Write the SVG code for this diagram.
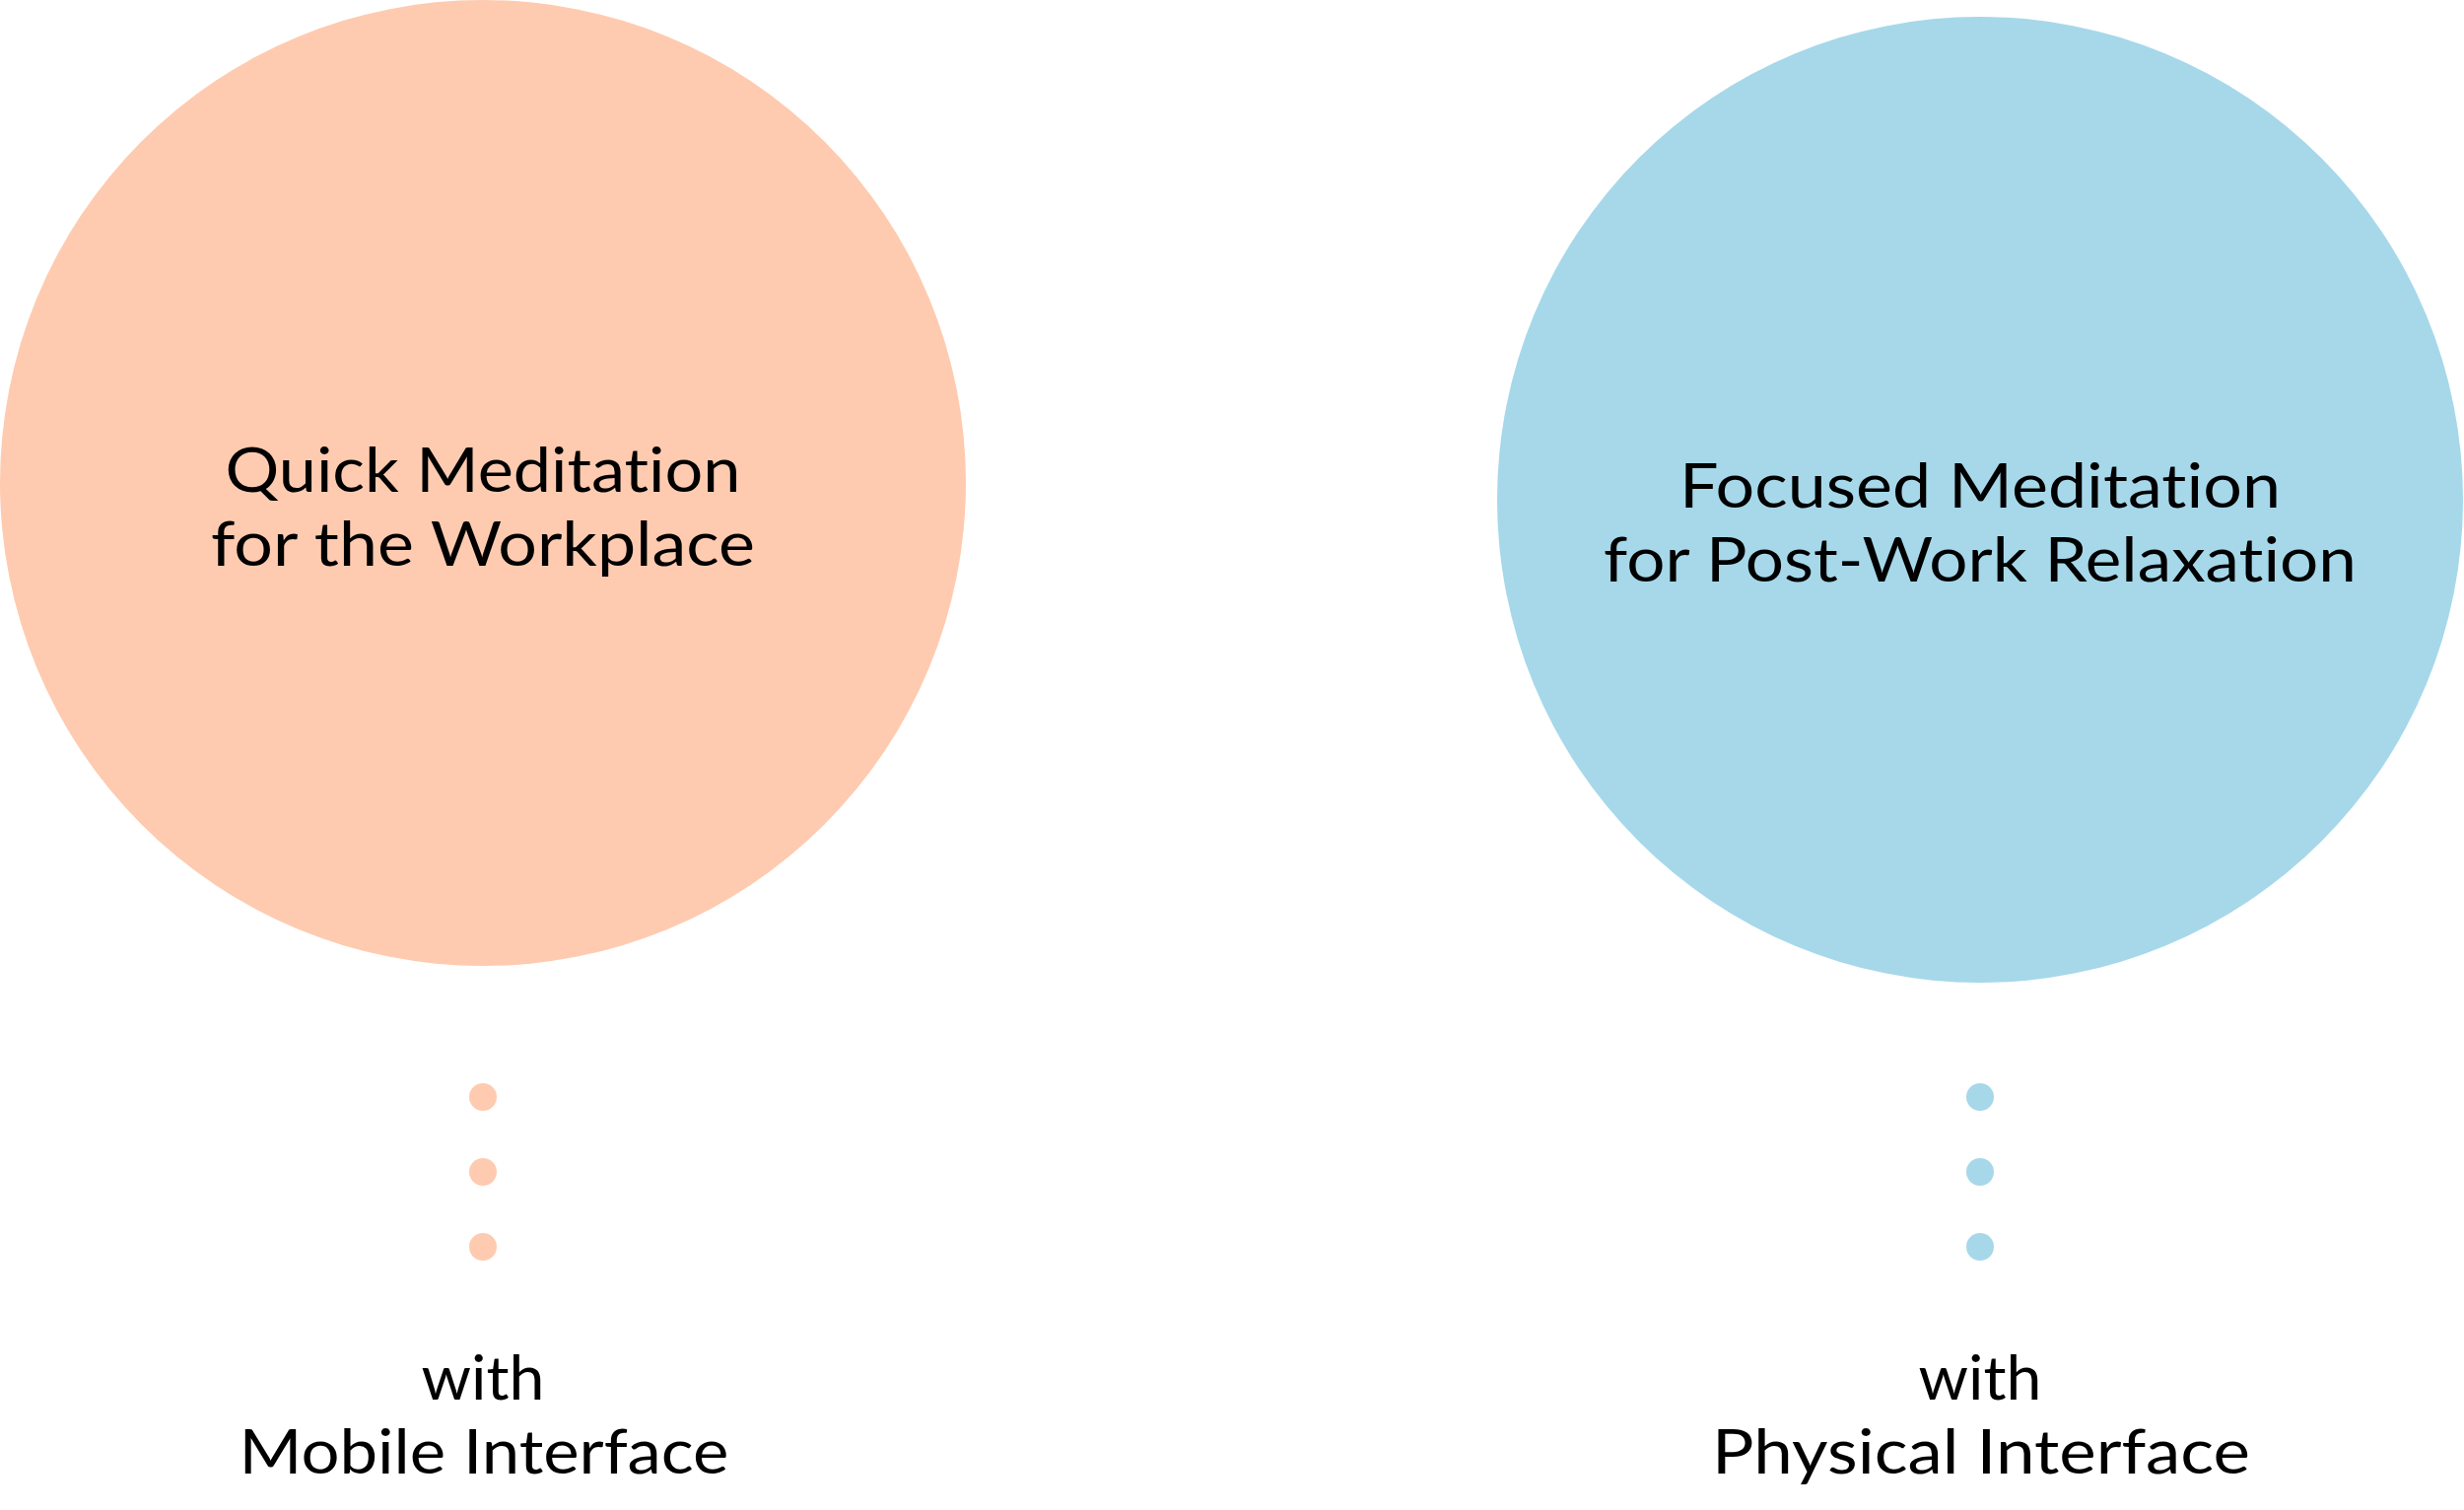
<svg xmlns="http://www.w3.org/2000/svg" width="2500" height="1532" viewBox="0 0 2500 1532">
<style>
.t{font-family:Lato,"Liberation Sans",sans-serif;font-size:62px;fill:#000;text-anchor:middle;font-variant-ligatures:none;font-feature-settings:"liga" 0,"dlig" 0,"clig" 0}
.peach{fill:#FECBB0}
.blue{fill:#A6D8EA}
</style>
<rect width="2500" height="1532" fill="#fff"/>
<g id="quick-meditation">
<circle class="peach" cx="490" cy="490" r="490"/>
<text class="t" x="490" y="499" textLength="523" lengthAdjust="spacingAndGlyphs">Quick Meditation</text>
<text class="t" x="490" y="574" textLength="552" lengthAdjust="spacingAndGlyphs">for the Workplace</text>
</g>
<g id="focused-meditation">
<circle class="blue" cx="2009" cy="507" r="490"/>
<text class="t" x="2009" y="515" textLength="610" lengthAdjust="spacingAndGlyphs">Focused Meditation</text>
<text class="t" x="2009" y="590" textLength="764" lengthAdjust="spacingAndGlyphs">for Post-Work Relaxation</text>
</g>
<g id="connectors">
<circle class="peach" cx="490" cy="1113" r="14"/>
<circle class="peach" cx="490" cy="1189" r="14"/>
<circle class="peach" cx="490" cy="1265" r="14"/>
<circle class="blue" cx="2009" cy="1113" r="14"/>
<circle class="blue" cx="2009" cy="1189" r="14"/>
<circle class="blue" cx="2009" cy="1265" r="14"/>
</g>
<g id="mobile-interface">
<text class="t" x="490" y="1420" textLength="125" lengthAdjust="spacingAndGlyphs">with</text>
<text class="t" x="491" y="1495" textLength="497" lengthAdjust="spacingAndGlyphs">Mobile Interface</text>
</g>
<g id="physical-interface">
<text class="t" x="2009" y="1420" textLength="125" lengthAdjust="spacingAndGlyphs">with</text>
<text class="t" x="2010" y="1495" textLength="546" lengthAdjust="spacingAndGlyphs">Physical Interface</text>
</g>
</svg>
